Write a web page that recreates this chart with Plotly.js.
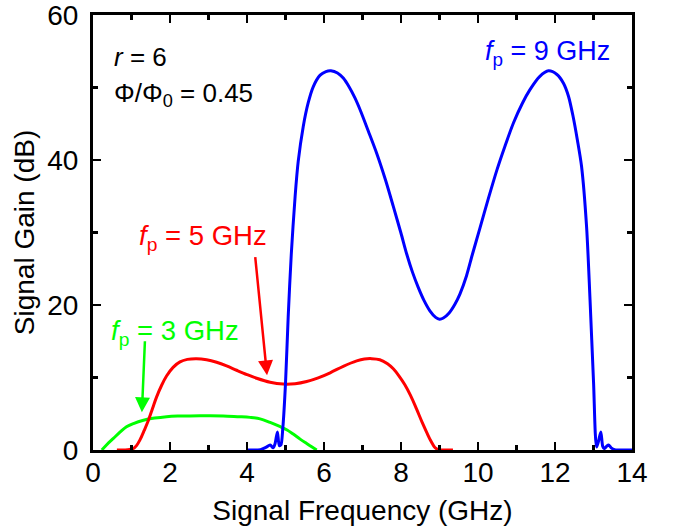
<!DOCTYPE html>
<html>
<head>
<meta charset="utf-8">
<script src="https://cdn.plot.ly/plotly-3.0.1.min.js"></script>
<style>html,body{margin:0;padding:0;background:#fff;}#chart{width:678px;height:527px;}</style>
</head>
<body>
<div id="chart"></div>
<script>
// fp = 9 GHz
const blueX = [4.0, 4.35, 4.5, 4.6, 4.68, 4.73, 4.79, 4.84, 4.88, 4.93, 5.0, 5.07, 5.15, 5.25, 5.33, 5.46, 5.59, 5.72, 5.9, 6.05, 6.18, 6.35, 6.5, 6.65, 6.8, 6.94, 7.15, 7.37, 7.6, 7.8, 8.0, 8.15, 8.3, 8.45, 8.6, 8.75, 8.9, 9.0, 9.1, 9.25, 9.4, 9.53, 9.7, 9.85, 10.05, 10.27, 10.49, 10.7, 10.92, 11.15, 11.35, 11.6, 11.83, 12.05, 12.22, 12.35, 12.47, 12.58, 12.69, 12.82, 12.91, 13.0, 13.08, 13.13, 13.19, 13.24, 13.28, 13.34, 13.39, 13.46, 13.55, 13.8, 14.0];
const blueY = [0, 0.05, 0.4, 0.7, 0.3, 0.9, 2.5, 0.6, 0.7, 3.0, 9.2, 18.4, 27.0, 35.0, 39.8, 44.6, 47.9, 50.1, 51.7, 52.2, 52.3, 52.0, 51.3, 50.1, 48.6, 46.9, 44.0, 40.9, 37.2, 33.6, 29.9, 27.0, 24.5, 22.4, 20.6, 19.2, 18.3, 18.05, 18.2, 18.9, 20.1, 21.5, 24.0, 26.9, 30.6, 34.7, 38.6, 41.9, 45.1, 47.8, 49.7, 51.5, 52.3, 51.8, 50.6, 48.8, 46.0, 42.8, 39.1, 30.8, 20.7, 9.5, 0.4, 1.2, 2.5, 0.5, 0.2, 0.5, 0.7, 0.3, 0.05, 0, 0];
// fp = 5 GHz
const redX = [0.62, 0.9, 1.05, 1.13, 1.22, 1.33, 1.44, 1.55, 1.65, 1.78, 1.91, 2.08, 2.26, 2.45, 2.69, 2.95, 3.21, 3.47, 3.73, 4.0, 4.25, 4.6, 4.94, 5.25, 5.55, 5.85, 6.16, 6.5, 6.85, 7.05, 7.24, 7.45, 7.65, 7.8, 7.95, 8.1, 8.25, 8.4, 8.55, 8.67, 8.78, 8.88, 8.97, 9.1, 9.35];
const redY = [0, 0.02, 0.2, 0.6, 1.4, 2.7, 4.1, 5.8, 7.3, 8.9, 10.2, 11.4, 12.15, 12.5, 12.6, 12.45, 12.1, 11.6, 11.0, 10.4, 9.9, 9.35, 9.1, 9.15, 9.45, 9.95, 10.65, 11.55, 12.3, 12.55, 12.6, 12.45, 11.9, 11.2, 10.2, 9.0, 7.5, 5.7, 3.8, 2.4, 1.2, 0.35, 0.05, 0, 0];
// fp = 3 GHz
const greenX = [0.23, 0.35, 0.53, 0.7, 0.87, 1.05, 1.31, 1.6, 1.91, 2.2, 2.52, 3.0, 3.38, 3.75, 4.08, 4.34, 4.6, 4.85, 5.03, 5.2, 5.38, 5.55, 5.68, 5.81];
const greenY = [0, 0.7, 1.6, 2.45, 3.2, 3.65, 4.1, 4.4, 4.6, 4.68, 4.7, 4.72, 4.7, 4.6, 4.5, 4.3, 3.8, 3.25, 2.8, 2.2, 1.5, 0.9, 0.45, 0];

const xTicks = [0, 2, 4, 6, 8, 10, 12, 14];
const yTicks = [0, 20, 40, 60];

const FONT = 'Arial, "Liberation Sans", sans-serif';
const lineW = 3;

const traces = [
  {x: greenX, y: greenY, mode: 'lines', line: {color: '#00ff00', width: lineW, shape: 'spline', smoothing: 1}, hoverinfo: 'skip'},
  {x: redX, y: redY, mode: 'lines', line: {color: '#ff0000', width: lineW, shape: 'spline', smoothing: 1}, hoverinfo: 'skip'},
  {x: blueX, y: blueY, mode: 'lines', line: {color: '#0000ff', width: lineW, shape: 'spline', smoothing: 0.8}, hoverinfo: 'skip'}
];

const axisCommon = {
  showline: true, linewidth: 3, linecolor: '#000', mirror: 'allticks',
  ticks: 'inside', ticklen: 8, tickwidth: 2.5, tickcolor: '#000',
  showgrid: false, zeroline: false, automargin: false,
  tickfont: {family: FONT, size: 28, color: '#000'},
  ticklabeloverflow: 'allow'
};

const layout = {
  width: 678, height: 527,
  margin: {l: 93, r: 46, t: 15, b: 77},
  paper_bgcolor: '#fff', plot_bgcolor: '#fff',
  showlegend: false,
  font: {family: FONT, color: '#000'},
  xaxis: Object.assign({}, axisCommon, {
    range: [0, 14], tickmode: 'array', tickvals: xTicks, ticktext: xTicks.map(String),
    ticklabelstandoff: -5,
    minor: {dtick: 1, tick0: 0, ticks: 'inside', ticklen: 5, tickwidth: 2.5, tickcolor: '#000', showgrid: false},
    title: {text: 'Signal Frequency (GHz)', font: {family: FONT, size: 28, color: '#000'}, standoff: 14}
  }),
  yaxis: Object.assign({}, axisCommon, {
    range: [0, 60], tickmode: 'array', tickvals: yTicks, ticktext: yTicks.map(String),
    ticklabelstandoff: 6,
    minor: {dtick: 10, tick0: 0, ticks: 'inside', ticklen: 5, tickwidth: 2.5, tickcolor: '#000', showgrid: false},
    title: {text: 'Signal Gain (dB)', font: {family: FONT, size: 28, color: '#000'}, standoff: 5}
  }),
  annotations: [
    {x: 0.5, y: 54.2, xref: 'x', yref: 'y', xanchor: 'left', yanchor: 'middle', showarrow: false,
     text: '<i>r</i> = 6', font: {family: FONT, size: 26, color: '#000'}},
    {x: 0.5, y: 49.1, xref: 'x', yref: 'y', xanchor: 'left', yanchor: 'middle', showarrow: false,
     text: 'Φ/Φ<sub>0</sub> = 0.45', font: {family: FONT, size: 26, color: '#000'}},
    {x: 10.12, y: 54.7, xref: 'x', yref: 'y', xanchor: 'left', yanchor: 'middle', showarrow: false,
     text: '<i>f</i><sub>p</sub> = 9 GHz', font: {family: FONT, size: 27, color: '#0000ff'}},
    {x: 1.15, y: 29.3, xref: 'x', yref: 'y', xanchor: 'left', yanchor: 'middle', showarrow: false,
     text: '<i>f</i><sub>p</sub> = 5 GHz', font: {family: FONT, size: 27.5, color: '#ff0000'}},
    {x: 0.42, y: 16.2, xref: 'x', yref: 'y', xanchor: 'left', yanchor: 'middle', showarrow: false,
     text: '<i>f</i><sub>p</sub> = 3 GHz', font: {family: FONT, size: 27.5, color: '#00ff00'}},
    {x: 4.52, y: 10.3, ax: 4.21, ay: 26.8, xref: 'x', yref: 'y', axref: 'x', ayref: 'y', text: '',
     showarrow: true, arrowhead: 2, arrowsize: 1.2, arrowwidth: 2.5, arrowcolor: '#ff0000', standoff: 0},
    {x: 1.27, y: 5.2, ax: 1.35, ay: 15.2, xref: 'x', yref: 'y', axref: 'x', ayref: 'y', text: '',
     showarrow: true, arrowhead: 2, arrowsize: 1.2, arrowwidth: 2.5, arrowcolor: '#00ff00', standoff: 0}
  ]
};

Plotly.newPlot('chart', traces, layout, {staticPlot: true, displayModeBar: false});
</script>
</body>
</html>
